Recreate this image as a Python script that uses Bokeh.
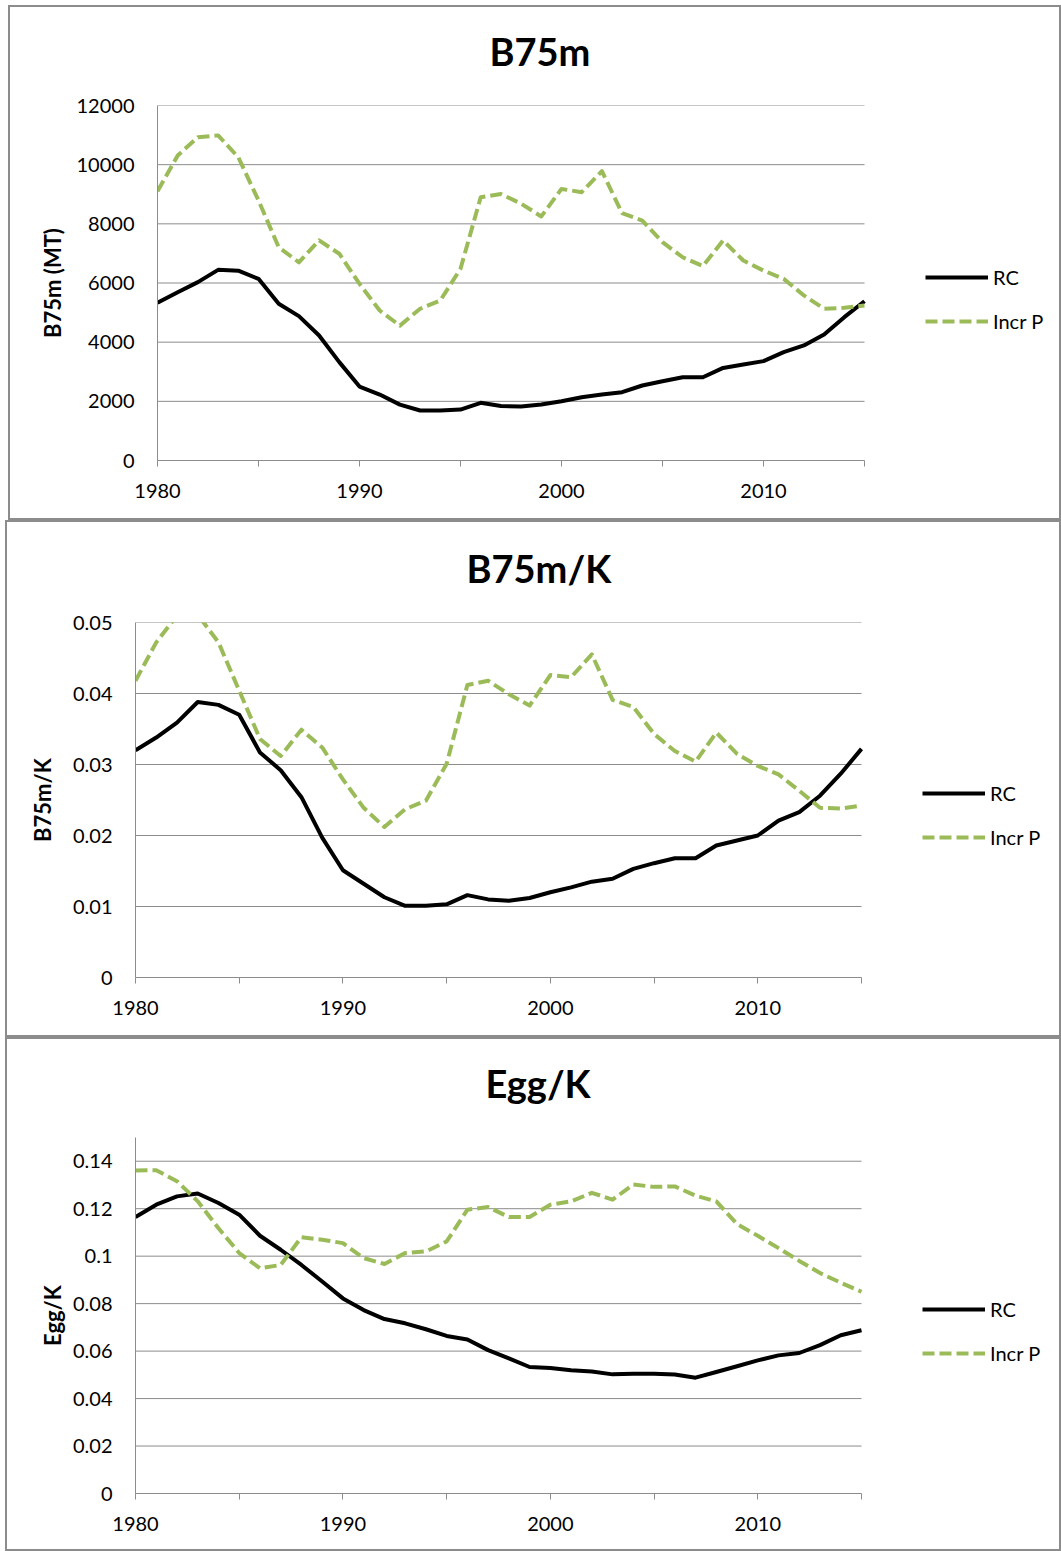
from bokeh.plotting import figure
from bokeh.models import Range1d, FixedTicker, CustomJSTickFormatter, Legend, LegendItem, Title
from bokeh.embed import file_html
from bokeh.resources import INLINE

years = list(range(1980, 2016))

b75_rc = [5330, 5690, 6030, 6445, 6415, 6140, 5300, 4880, 4225, 3325,
          2500, 2230, 1890, 1690, 1690, 1720, 1950, 1840, 1825, 1890,
          2005, 2140, 2230, 2310, 2535, 2680, 2815, 2815, 3130, 3245,
          3360, 3665, 3890, 4260, 4845, 5385]
b75_incr = [9100, 10310, 10930, 10990, 10250, 8790, 7210, 6700, 7440, 6990,
            5970, 5070, 4560, 5130, 5410, 6480, 8900, 9010, 8680, 8250,
            9180, 9070, 9780, 8360, 8110, 7380, 6870, 6570, 7440, 6760,
            6420, 6140, 5580, 5130, 5160, 5240]

b75k_rc = [0.0320, 0.0338, 0.0359, 0.0388, 0.0384, 0.0370, 0.0317, 0.0292, 0.0254, 0.0197,
           0.0151, 0.0132, 0.0113, 0.0101, 0.0101, 0.0103, 0.0116, 0.0110, 0.0108, 0.0112,
           0.0120, 0.0127, 0.0135, 0.0139, 0.0153, 0.0161, 0.0168, 0.0168, 0.0186, 0.0193,
           0.0200, 0.0221, 0.0233, 0.0256, 0.0287, 0.0322]
b75k_incr = [0.0418, 0.0472, 0.0510, 0.0511, 0.0472, 0.0404, 0.0336, 0.0312, 0.0349, 0.0324,
             0.0279, 0.0239, 0.0212, 0.0237, 0.0249, 0.0301, 0.0412, 0.0418, 0.0399, 0.0383,
             0.0426, 0.0423, 0.0455, 0.0391, 0.0381, 0.0343, 0.0319, 0.0304, 0.0345, 0.0315,
             0.0298, 0.0286, 0.0263, 0.0239, 0.0238, 0.0242]

egg_rc = [0.1165, 0.1217, 0.1252, 0.1264, 0.1224, 0.1175, 0.1086, 0.1027, 0.0963, 0.0893,
          0.0822, 0.0773, 0.0735, 0.0717, 0.0692, 0.0664, 0.0649, 0.0604, 0.0569, 0.0533,
          0.0529, 0.0519, 0.0514, 0.0502, 0.0505, 0.0505, 0.0501, 0.0488, 0.0512, 0.0536,
          0.0561, 0.0582, 0.0592, 0.0625, 0.0667, 0.0688]
egg_incr = [0.1361, 0.1362, 0.1316, 0.1231, 0.1118, 0.1013, 0.0949, 0.0963, 0.1080, 0.1069,
            0.1055, 0.0992, 0.0967, 0.1013, 0.1020, 0.1062, 0.1196, 0.1207, 0.1165, 0.1165,
            0.1217, 0.1231, 0.1267, 0.1238, 0.1302, 0.1292, 0.1294, 0.1255, 0.1231, 0.1135,
            0.1086, 0.1034, 0.0980, 0.0929, 0.0888, 0.0850]

series_names = ["RC", "Incr P"]
titles = ["B75m", "B75m/K", "Egg/K"]
ylabels = ["B75m (MT)", "B75m/K", "Egg/K"]
x_ticks = [1980, 1985, 1990, 1995, 2000, 2005, 2010, 2015]
y_ticks_1 = [0, 2000, 4000, 6000, 8000, 10000, 12000]
y_ticks_2 = [0, 0.01, 0.02, 0.03, 0.04, 0.05]
y_ticks_3 = [0, 0.02, 0.04, 0.06, 0.08, 0.10, 0.12, 0.14]

GRID = "#8c8c8c"
GREEN = "#9BBB59"
FONT = "Lato"
X0, X1 = 1980, 2015


def panel(title, ylabel, rc, incr, ymax, yticks, w, h, mb_left, mb_top, mb_bottom,
          axis_px, margin, t_offset, leg_loc, ylab_standoff):
    # the plot frame runs to the right edge so that the legend can sit in it;
    # the data axis itself spans axis_px pixels for 1980-2015
    frame_px = w - mb_left
    x_end = X0 + (X1 - X0) * frame_px / axis_px
    p = figure(width=w, height=h, output_backend="svg", toolbar_location=None,
               x_range=Range1d(X0, x_end), y_range=Range1d(0, ymax),
               min_border_left=mb_left, min_border_right=0,
               min_border_top=mb_top, min_border_bottom=mb_bottom)
    p.margin = margin
    p.styles = {"border": "2px solid #8c8c8c"}
    p.outline_line_color = None
    p.background_fill_color = "white"
    p.border_fill_color = "white"

    # spacer between the title and the plot area
    p.add_layout(Title(text=" ", text_font_size="2px", standoff=14), "above")

    p.title.text = title
    p.title.align = "left"
    p.title.text_font = FONT
    p.title.text_font_size = "38px"
    p.title.text_font_style = "bold"
    p.title.text_color = "black"
    p.title.offset = t_offset
    p.title.standoff = 28

    # horizontal gridlines limited to the 1980-2015 span
    gy = [t for t in yticks if t != 0]
    p.segment(x0=[X0] * len(gy), y0=gy, x1=[X1] * len(gy), y1=gy,
              line_color=GRID, line_width=1)
    p.xgrid.visible = False
    p.ygrid.visible = False

    r1 = p.line(years, rc, line_color="black", line_width=4, line_join="round")
    r2 = p.line(years, incr, line_color=GREEN, line_width=4, line_dash="12 5",
                line_join="round")

    xa = p.xaxis[0]
    xa.bounds = (X0, X1)
    xa.ticker = FixedTicker(ticks=x_ticks)
    xa.formatter = CustomJSTickFormatter(code="return (tick % 10 === 0) ? tick.toFixed(0) : '';")
    xa.axis_line_color = GRID
    xa.major_tick_line_color = GRID
    xa.major_tick_out = 6
    xa.major_tick_in = 0
    xa.minor_tick_line_color = None
    xa.major_label_text_font = FONT
    xa.major_label_text_font_size = "20px"
    xa.major_label_text_color = "black"
    xa.major_label_standoff = 17

    ya = p.yaxis[0]
    ya.ticker = FixedTicker(ticks=yticks)
    ya.formatter = CustomJSTickFormatter(code="return tick == 0 ? '0' : String(+tick.toFixed(4));")
    ya.axis_line_color = GRID
    ya.major_tick_line_color = None
    ya.major_tick_out = 0
    ya.major_tick_in = 0
    ya.minor_tick_line_color = None
    ya.major_label_text_font = FONT
    ya.major_label_text_font_size = "20px"
    ya.major_label_text_color = "black"
    ya.major_label_standoff = 23
    ya.axis_label = ylabel
    ya.axis_label_text_font = FONT
    ya.axis_label_text_font_size = "22px"
    ya.axis_label_text_font_style = "bold"
    ya.axis_label_text_color = "black"
    ya.axis_label_standoff = ylab_standoff

    legend = Legend(items=[LegendItem(label=series_names[0], renderers=[r1]),
                           LegendItem(label=series_names[1], renderers=[r2])],
                    location=leg_loc)
    legend.glyph_width = 63
    legend.glyph_height = 20
    legend.label_height = 20
    legend.label_standoff = 5
    legend.spacing = 20
    legend.padding = 0
    legend.margin = 0
    legend.border_line_alpha = 0
    legend.background_fill_alpha = 0
    legend.label_text_font = FONT
    legend.label_text_font_size = "20px"
    legend.label_text_color = "black"
    p.add_layout(legend, "center")
    return p


p1 = panel(titles[0], ylabels[0], b75_rc, b75_incr, 12000, y_ticks_1,
           1053, 515, 147, 98, 62, 707, (5, 0, 0, 8), 332, (768, 127), 8)
p2 = panel(titles[1], ylabels[1], b75k_rc, b75k_incr, 0.05, y_ticks_2,
           1056, 517, 128, 100, 62, 726, (0, 0, 0, 5), 331, (787, 128), 14)
p3 = panel(titles[2], ylabels[2], egg_rc, egg_incr, 0.15, y_ticks_3,
           1056, 514, 128, 98, 60, 726, (0, 0, 0, 5), 350, (787, 128), 4)

open("out.html", "w").write(file_html([p1, p2, p3], INLINE))
